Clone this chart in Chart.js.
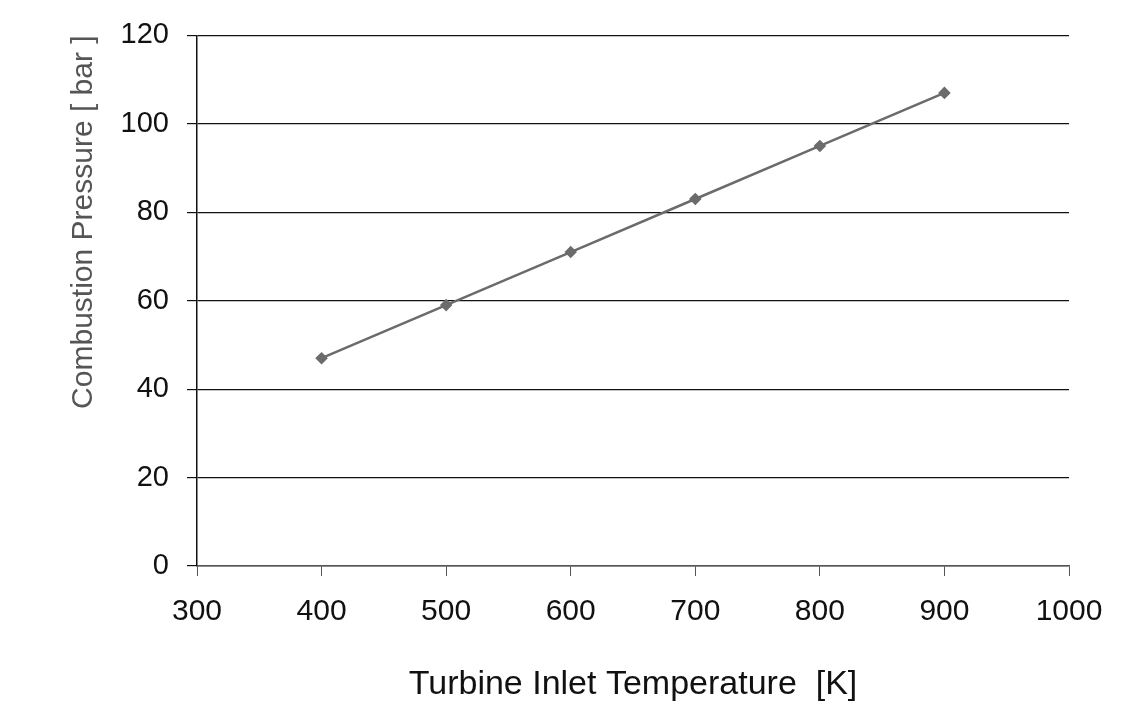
<!DOCTYPE html>
<html lang="en">
<head>
    <meta charset="UTF-8">
    <title>Combustion Pressure vs Turbine Inlet Temperature</title>
    <script src="https://cdn.jsdelivr.net/npm/chart.js"></script>
    <style>
        html, body { margin: 0; padding: 0; background: #fff; }
        #wrap { width: 1145px; height: 702px; }
    </style>
</head>
<body>
    <div id="wrap">
        <canvas id="pressureChart"></canvas>
    </div>

    <script>
        // data
        const temperatures = [400, 500, 600, 700, 800, 900];
        const pressures = [47, 59, 71, 83, 95, 107];
        const xTicks = [300, 400, 500, 600, 700, 800, 900, 1000];
        const yTicks = [0, 20, 40, 60, 80, 100, 120];

        const points = temperatures.map((t, i) => ({ x: t, y: pressures[i] }));

        const ctx = document.getElementById('pressureChart').getContext('2d');
        new Chart(ctx, {
            type: 'line',
            data: {
                datasets: [{
                    data: points,
                    borderColor: '#6b6b6b',
                    backgroundColor: '#6b6b6b',
                    borderWidth: 2.5,
                    pointStyle: 'rectRot',
                    pointRadius: 4.5,
                    tension: 0
                }]
            },
            options: {
                responsive: true,
                maintainAspectRatio: false,
                animation: false,
                layout: { padding: { top: 35, right: 76, left: 62, bottom: 0 } },
                plugins: { legend: { display: false }, tooltip: { enabled: false } },
                scales: {
                    x: {
                        type: 'linear',
                        min: 300,
                        max: 1000,
                        afterBuildTicks: axis => { axis.ticks = xTicks.map(v => ({ value: v })); },
                        afterFit: axis => { axis.height = 136; },
                        grid: { drawOnChartArea: false, color: '#555', tickLength: 10 },
                        border: { color: '#555', width: 1.5 },
                        ticks: {
                            color: '#111',
                            padding: 18,
                            font: { family: 'Liberation Sans', size: 30 },
                            callback: v => String(v)
                        },
                        title: {
                            display: true,
                            text: 'Turbine Inlet Temperature  [K]',
                            color: '#111',
                            font: { family: 'Liberation Sans', size: 34 },
                            padding: { top: 24, bottom: -3 }
                        }
                    },
                    y: {
                        min: 0,
                        max: 120,
                        afterBuildTicks: axis => { axis.ticks = yTicks.map(v => ({ value: v })); },
                        afterFit: axis => { axis.width = 135; },
                        grid: { color: '#111', tickLength: 10, lineWidth: 1.2 },
                        border: { color: '#111', width: 1.5 },
                        ticks: { color: '#111', padding: 18, font: { family: 'Liberation Sans', size: 29 } },
                        title: {
                            display: true,
                            text: 'Combustion Pressure [ bar ]',
                            align: 'end',
                            color: '#555',
                            font: { family: 'Liberation Sans', size: 30 },
                            padding: { bottom: 0 }
                        }
                    }
                }
            }
        });
    </script>
</body>
</html>
